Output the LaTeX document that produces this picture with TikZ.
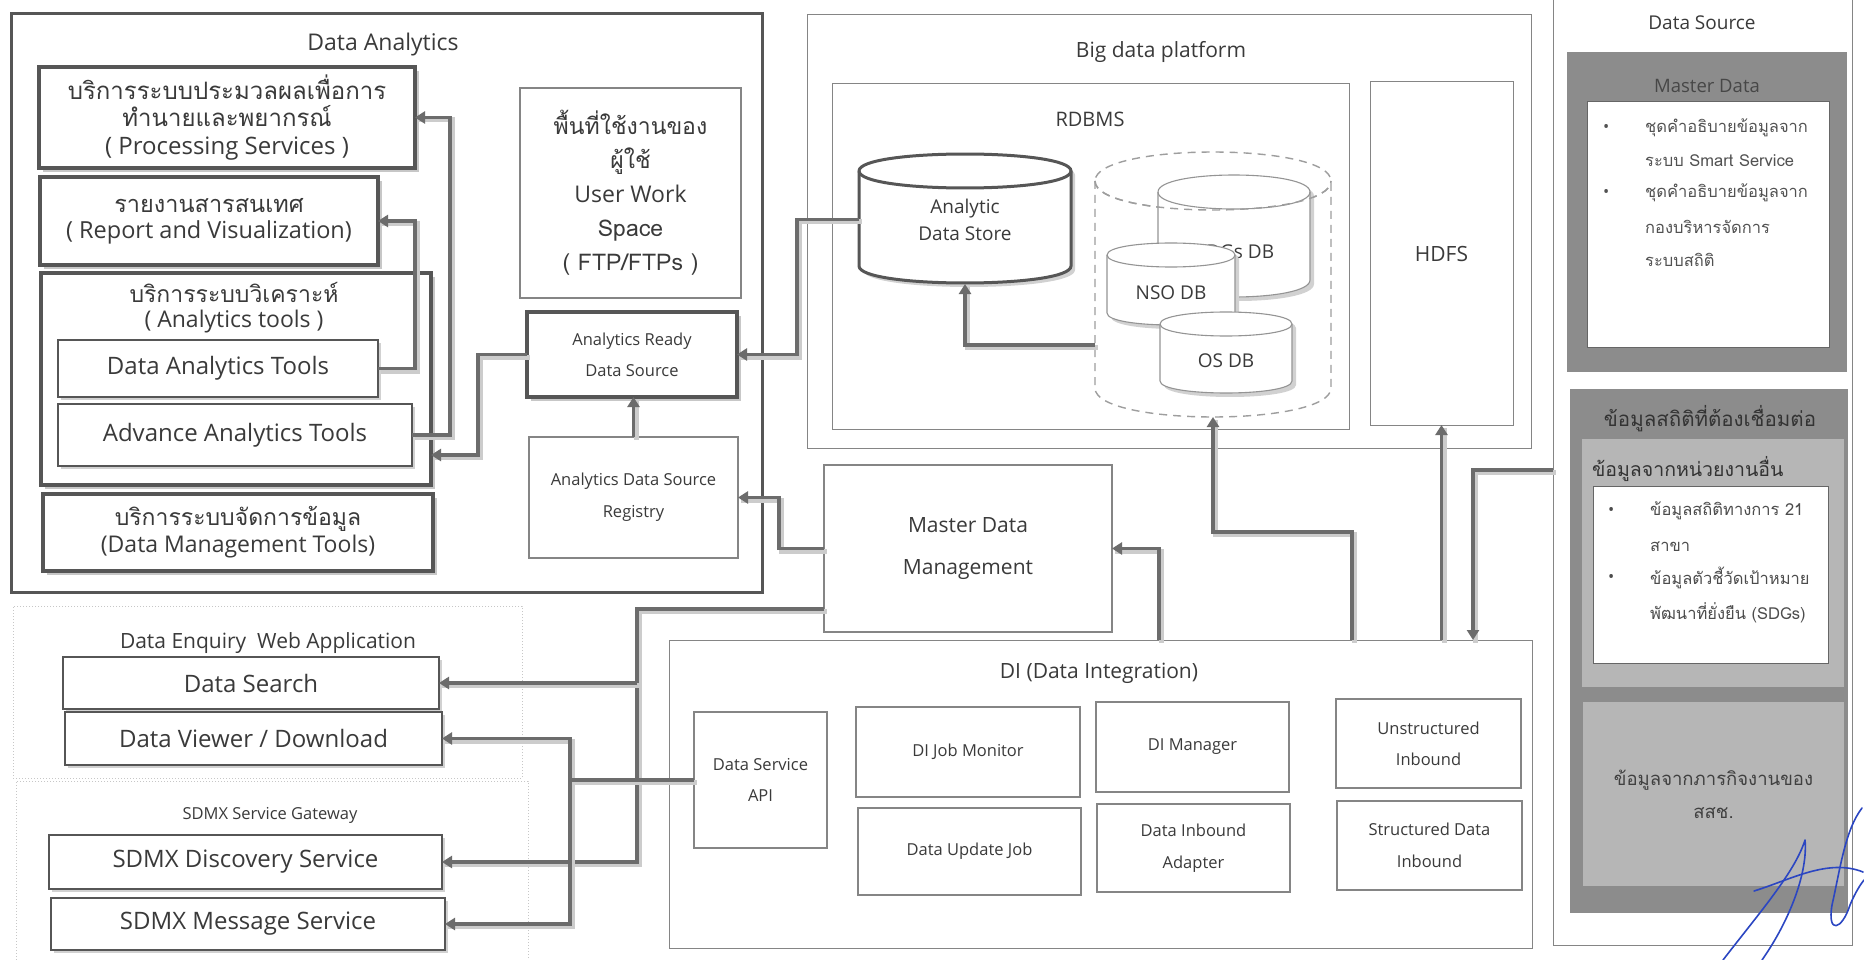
\documentclass[tikz,border=0pt]{standalone}
\usepackage{fontspec}
\setmainfont{Open Sans}
\newfontfamily\thai[Script=Thai]{Loma}
\usetikzlibrary{arrows.meta,shadows,calc}
\definecolor{tx}{HTML}{3A3A3A}
\definecolor{bd}{HTML}{565656}
\definecolor{ln}{HTML}{6C6C6C}
\definecolor{thn}{HTML}{858585}
\definecolor{pan}{HTML}{8C8C8C}
\definecolor{lpan}{HTML}{B6B6B6}
\definecolor{sigblue}{HTML}{2B46C2}
\newcommand{\fz}[2]{\fontsize{#1pt}{#2pt}\selectfont}
% cylinder body path: x1 x2 ytopcentre ybotcentre ry
\newcommand{\cylbody}[5]{(#1,#3) -- (#1,#4) .. controls (#1,#4+1.333*#5) and (#2,#4+1.333*#5) .. (#2,#4) -- (#2,#3) .. controls (#2,#3-1.333*#5) and (#1,#3-1.333*#5) .. (#1,#3) -- cycle}
\newcommand{\cylfront}[5]{(#1,#3) .. controls (#1,#3+1.333*#5) and (#2,#3+1.333*#5) .. (#2,#3)}
\newcommand{\mycyl}[6]{%
  \filldraw[fill=white,#6] \cylbody{#1}{#2}{#3}{#4}{#5};
  \draw[#6] \cylfront{#1}{#2}{#3}{#4}{#5};}
\newcommand{\mycylS}[6]{%
  \begin{scope}[shift={(4,4)}]\fill[black!18] \cylbody{#1}{#2}{#3}{#4}{#5};\end{scope}
  \mycyl{#1}{#2}{#3}{#4}{#5}{#6}}
\begin{document}
\begin{tikzpicture}[x=1pt,y=-1pt,
  every node/.style={inner sep=0pt, outer sep=0pt, text=tx},
  thickbox/.style={draw=bd, line width=3.5pt, fill=white, drop shadow={shadow xshift=4pt, shadow yshift=-4pt, fill=black, opacity=0.22}},
  midbox/.style={draw=bd, line width=1.6pt, fill=white, drop shadow={shadow xshift=3pt, shadow yshift=-3pt, fill=black, opacity=0.18}},
  thinbox/.style={draw=thn, line width=1.1pt, fill=white},
  container/.style={draw=thn, line width=1pt},
  dotbox/.style={draw=black!22, line width=1pt, dotted},
  dashline/.style={draw=black!38, line width=1.4pt, dash pattern=on 8pt off 6pt},
  conn/.style={draw=ln, line width=3.6pt, -{Triangle[length=10pt,width=12pt]},
     preaction={draw=black!20, line width=5pt, -, transform canvas={xshift=2.5pt,yshift=-2.5pt}}},
  sig/.style={draw=sigblue, line width=1.6pt, line cap=round, line join=round}]
\useasboundingbox (0,0) rectangle (1864,960);
\fill[white] (0,0) rectangle (1864,960);

% ---------------- Data Analytics ----------------
\node[draw=bd, line width=3pt, minimum width=751pt, minimum height=578pt] (da) at (386.5,303) {};
\node[font=\fz{23}{28}] (dat_t) at (383,45) {Data Analytics};
\node[thickbox, minimum width=376pt, minimum height=101pt, align=center, font={\fz{24}{27.5}\thai}] (ps) at (227,117.5) {บริการระบบประมวลผลเพื่อการ\\ทำนายและพยากรณ์\\\rmfamily( Processing Services )};
\node[thickbox, minimum width=338pt, minimum height=88pt, align=center, font={\fz{23.5}{26}\thai}] (rep) at (209,221) {รายงานสารสนเทศ\\\rmfamily( Report and Visualization)};
\node[thickbox, minimum width=390pt, minimum height=212pt] (at) at (236,379) {};
\node[align=center, font={\fz{23}{25}\thai}] (att) at (234,308) {บริการระบบวิเคราะห์\\\rmfamily( Analytics tools )};
\node[midbox, minimum width=320pt, minimum height=57pt, font=\fz{24}{28}] (dat) at (218,368.5) {Data Analytics Tools};
\node[midbox, minimum width=354pt, minimum height=62pt, font=\fz{24}{28}] (aat) at (235,435) {Advance Analytics Tools};
\node[thickbox, minimum width=390pt, minimum height=77pt, align=center, font={\fz{23}{27}\thai}] (dmt) at (238,532.5) {บริการระบบจัดการข้อมูล\\\rmfamily(Data Management Tools)};
\node[thinbox, minimum width=221pt, minimum height=210pt, align=center, font={\fz{23}{34}\thai}] (uws) at (630.5,193) {พื้นที่ใช้งานของ\\ผู้ใช้\\\rmfamily User Work\\Space\\( FTP/FTPs )};
\node[thickbox, minimum width=210pt, minimum height=85pt, align=center, font=\fz{16.5}{31}] (ards) at (632,354.5) {Analytics Ready\\Data Source};
\node[thinbox, minimum width=209pt, minimum height=121pt, align=center, font=\fz{16.5}{32}] (adsr) at (633.5,497.5) {Analytics Data Source\\Registry};

% ---------------- Big data platform ----------------
\node[container, minimum width=724pt, minimum height=433pt] (bdp) at (1169,231.5) {};
\node[font=\fz{21}{26}] (bdpt) at (1161,52) {Big data platform};
\node[container, minimum width=517pt, minimum height=345pt] (rdb) at (1090.5,256.5) {};
\node[font=\fz{20}{24}] (rdbt) at (1090,119) {RDBMS};
\node[container, minimum width=143pt, minimum height=343pt, font=\fz{21}{24}] (hdfs) at (1441.5,253.5) {HDFS};

\mycylS{859}{1071}{171}{266}{17}{draw=bd, line width=3pt}
\node[minimum width=212pt, minimum height=129pt, align=center, font=\fz{19}{27}] (ads) at (965,219.5) {Analytic\\Data Store};

\mycyl{1095}{1331}{181}{388}{29}{dashline}
\node[minimum width=236pt, minimum height=265pt] (dcyl) at (1213,284.5) {};
\mycylS{1158}{1310}{192}{280}{17}{draw=black!42, line width=1.1pt}
\node[font=\fz{19}{24}] (sdgt) at (1235,252) {SDGs DB};
\draw[dashline] \cylfront{1095}{1331}{181}{388}{29};
\mycylS{1107}{1235}{255}{313}{12}{draw=black!42, line width=1.1pt}
\node[font=\fz{19}{24}] (nso) at (1171,293) {NSO DB};
\mycylS{1160}{1292}{324}{381}{12}{draw=black!42, line width=1.1pt}
\node[font=\fz{19}{24}] (osdb) at (1226,361) {OS DB};

% ---------------- Master data management & DI ----------------
\node[thinbox, minimum width=288pt, minimum height=167pt, align=center, font=\fz{21}{42}] (mdm) at (968,548.5) {Master Data\\Management};
\node[container, minimum width=863pt, minimum height=308pt] (di) at (1100.5,794) {};
\node[font=\fz{21}{26}] (dit) at (1099,673) {DI (Data Integration)};
\node[thinbox, minimum width=133pt, minimum height=136pt, align=center, font=\fz{16.5}{31}] (dsa) at (760.5,780) {Data Service\\API};
\node[thinbox, minimum width=224pt, minimum height=90pt, font=\fz{16.5}{31}] (dijm) at (968,752) {DI Job Monitor};
\node[thinbox, minimum width=193pt, minimum height=90pt, font=\fz{16.5}{31}] (dim) at (1192.5,747) {DI Manager};
\node[thinbox, minimum width=185pt, minimum height=89pt, align=center, font=\fz{16.5}{31}] (ui) at (1428.5,743.5) {Unstructured\\Inbound};
\node[thinbox, minimum width=223pt, minimum height=87pt, font=\fz{16.5}{31}] (duj) at (969.5,851.5) {Data Update Job};
\node[thinbox, minimum width=193pt, minimum height=88pt, align=center, font=\fz{16.5}{32}] (dia) at (1193.5,848) {Data Inbound\\Adapter};
\node[thinbox, minimum width=185pt, minimum height=89pt, align=center, font=\fz{16.5}{32}] (sdi) at (1429.5,845.5) {Structured Data\\Inbound};

% ---------------- Web application & SDMX ----------------
\node[dotbox, minimum width=509pt, minimum height=172pt] (dew) at (267.5,692) {};
\node[font=\fz{21}{26}] (dewt) at (268,643) {Data Enquiry\ \ Web Application};
\node[midbox, minimum width=376pt, minimum height=52pt, font=\fz{24}{28}] (ds) at (251,683) {Data Search};
\node[midbox, minimum width=377pt, minimum height=53pt, font=\fz{24}{28}] (dv) at (253.5,738.5) {Data Viewer / Download};
\node[dotbox, minimum width=512pt, minimum height=181pt] (sg) at (272,871.5) {};
\node[font=\fz{16.5}{20}] (sgt) at (270,815) {SDMX Service Gateway};
\node[midbox, minimum width=393pt, minimum height=54pt, font=\fz{24}{28}] (sdd) at (245.5,862) {SDMX Discovery Service};
\node[midbox, minimum width=394pt, minimum height=52pt, font=\fz{24}{28}] (sdm) at (248,924) {SDMX Message Service};

% ---------------- Data Source column ----------------
\node[container, minimum width=299pt, minimum height=950pt] (dso) at (1702.5,470) {};
\node[font=\fz{19}{24}] (dsot) at (1702,23) {Data Source};
\node[fill=pan, minimum width=280pt, minimum height=320pt] (mdp) at (1707,212) {};
\node[font=\fz{18.5}{24}, text=black!72] (mdpt) at (1707,86) {Master Data};
\node[fill=white, draw=black!60, line width=1pt, minimum width=242pt, minimum height=245pt] (mdw) at (1708,224.5) {};
\begin{scope}[every node/.style={inner sep=0pt, anchor=west, text=black!68, font={\fz{16.5}{20}\thai}}]
\node (mb1) at (1603,128) {\rmfamily •};
\node (mb2) at (1603,193) {\rmfamily •};
\node (mt1) at (1645,128) {ชุดคำอธิบายข้อมูลจาก};
\node (mt2) at (1645,161) {ระบบ Smart Service};
\node (mt3) at (1645,193) {ชุดคำอธิบายข้อมูลจาก};
\node (mt4) at (1645,227) {กองบริหารจัดการ};
\node (mt5) at (1645,260) {ระบบสถิติ};
\end{scope}
\node[fill=pan, minimum width=278pt, minimum height=524pt] (sp) at (1709,651) {};
\node[font={\fz{20.5}{24}\thai}, text=black!80] (spt) at (1710,419) {ข้อมูลสถิติที่ต้องเชื่อมต่อ};
\node[fill=lpan, minimum width=262pt, minimum height=248pt] (lp1) at (1713,563) {};
\node[anchor=west, font={\fz{19.5}{24}\thai}, text=black!80] (lp1t) at (1592,469) {ข้อมูลจากหน่วยงานอื่น};
\node[fill=white, draw=black!60, line width=1pt, minimum width=235pt, minimum height=177pt] (w2) at (1710.5,574.5) {};
\begin{scope}[every node/.style={inner sep=0pt, anchor=west, text=black!70, font={\fz{16.5}{20}\thai}}]
\node (wb1) at (1608,511) {\rmfamily •};
\node (wb2) at (1608,578) {\rmfamily •};
\node (wt1) at (1650,511) {ข้อมูลสถิติทางการ 21};
\node (wt2) at (1650,547) {สาขา};
\node (wt3) at (1650,578) {ข้อมูลตัวชี้วัดเป้าหมาย};
\node (wt4) at (1650,613) {พัฒนาที่ยั่งยืน (SDGs)};
\end{scope}
\node[fill=lpan, minimum width=261pt, minimum height=184pt, align=center, font={\fz{18.5}{33}\thai}, text=black!75] (lp2) at (1713.5,794) {ข้อมูลจากภารกิจงานของ\\สสช.};

% ---------------- connectors ----------------
\coordinate (k0) at (1000,345);
\coordinate (k1) at (1352,532);
\coordinate (k2) at (1473,470);
\coordinate (k3) at (1159,548.5);
\coordinate (k4) at (637,609);
\coordinate (k5) at (570,780);
\coordinate (k6) at (478,455);
\draw[conn] (aat.east) -- (450,435) |- (ps.east);
\draw[conn] (dat.east) -- (415,368.5) |- (rep.east);
\draw[conn] (ards.west) -| (k6) -- (at.east |- k6);
\draw[conn] (ads.west) -- (797,219.5) |- (ards.east);
\draw[conn] (dcyl.west |- k0) -| (ads.south);
\draw[conn] (di.north -| k1) -- (k1) -| (dcyl.south);
\draw[conn] (di.north -| hdfs.south) -- (hdfs.south);
\draw[conn] (dso.west) -- (k2) -- (di.north -| k2);
\draw[conn] (di.north -| k3) -- (k3) -- (mdm.east);
\draw[conn] (mdm.west) -- (779,548.5) |- (adsr.east);
\draw[conn] (adsr.north) -- (adsr.north |- ards.south);
\draw[conn] (mdm.west |- k4) -- (k4) |- (sdd.east);
\draw[conn] (k4 |- ds.east) -- (ds.east);
\draw[conn] (dsa.west) -- (k5) |- (dv.east);
\draw[conn] (k5) |- (sdm.east);

% ---------------- signature ----------------
\draw[sig] (1723,960) .. controls (1760,912) and (1795,872) .. (1805,840) .. controls (1808,872) and (1790,920) .. (1762,960);
\draw[sig] (1754,891) .. controls (1790,880) and (1828,858) .. (1863,872);
\draw[sig] (1862,808) .. controls (1845,830) and (1840,870) .. (1832,905) .. controls (1827,935) and (1842,930) .. (1850,905) .. controls (1855,893) and (1860,885) .. (1864,880);
\end{tikzpicture}
\end{document}
